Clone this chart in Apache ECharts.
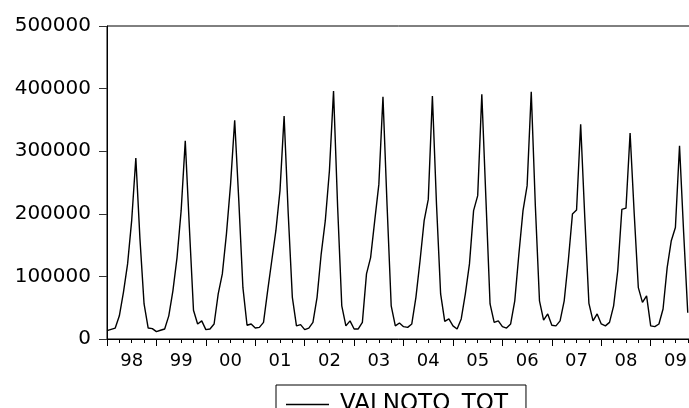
<!DOCTYPE html>
<html>
<head>
<meta charset="utf-8">
<script src="https://cdn.jsdelivr.net/npm/echarts@6/dist/echarts.min.js"></script>
<style>
html,body{margin:0;padding:0;background:#fff;}
#chart{width:689px;height:408px;}
</style>
</head>
<body>
<div id="chart"></div>
<script>
// Monthly values, Jan..Dec
const y1998 = [13300, 15400, 17500, 37000, 75000, 120000, 190000, 289000, 160000, 56000, 17500, 16500];
const y1999 = [11700, 14000, 16000, 37000, 77000, 130000, 205000, 316500, 178000, 46000, 24000, 29000];
const y2000 = [15000, 16000, 24000, 72000, 104000, 168000, 247000, 349500, 221000, 82000, 22000, 24000];
const y2001 = [17500, 18600, 26600, 77000, 125000, 173000, 237000, 356000, 200000, 66500, 21000, 23000];
const y2002 = [15000, 17500, 26600, 66500, 135700, 189000, 268700, 396000, 210000, 53000, 21000, 29000];
const y2003 = [16000, 16000, 26600, 104000, 130000, 189000, 247000, 387000, 213000, 53000, 21000, 25500];
const y2004 = [19700, 18600, 24000, 66500, 125000, 189000, 223000, 388000, 215000, 72000, 28000, 32000];
const y2005 = [21000, 16000, 32000, 72000, 120000, 205000, 229000, 391000, 223000, 56000, 26600, 29000];
const y2006 = [19700, 17500, 24000, 61000, 135700, 205000, 245000, 395000, 212000, 61000, 30000, 40000];
const y2007 = [22000, 21000, 29000, 61000, 125000, 199500, 206000, 343000, 194000, 57000, 29000, 40000];
const y2008 = [24000, 21000, 26600, 53000, 109000, 207000, 209000, 329000, 200000, 82000, 58500, 69000];
const y2009 = [21000, 19700, 24000, 48000, 114000, 157000, 178000, 308500, 170000, 42000];

const yearLabels = ['98','99','00','01','02','03','04','05','06','07','08','09'];
const yTicks = [0, 100000, 200000, 300000, 400000, 500000];
const seriesName = 'VALNOTO_TOT';

const allValues = [].concat(y1998, y1999, y2000, y2001, y2002, y2003, y2004, y2005, y2006, y2007, y2008, y2009);
const lineData = allValues.map((v, i) => [i, v]);

const FONT = 'DejaVu Sans';
const chart = echarts.init(document.getElementById('chart'), null, {renderer: 'canvas'});
chart.setOption({
  animation: false,
  backgroundColor: '#fff',
  grid: {
    left: 107, top: 26, width: 589, height: 313,
    containLabel: false,
    outerBoundsMode: 'none',
    show: true, borderColor: '#000', borderWidth: 1, backgroundColor: 'transparent'
  },
  xAxis: [
    {
      type: 'value', min: 0, max: 143, interval: 12,
      axisLine: {show: true, lineStyle: {color: '#000', width: 1}},
      axisTick: {show: true, length: 7, lineStyle: {color: '#000', width: 1}},
      minorTick: {show: true, splitNumber: 4, length: 4, lineStyle: {color: '#000', width: 1}},
      axisLabel: {show: false},
      splitLine: {show: false},
      minorSplitLine: {show: false}
    },
    {
      type: 'value', min: 0, max: 143, interval: 6, position: 'bottom',
      axisLine: {show: false}, axisTick: {show: false}, splitLine: {show: false},
      axisLabel: {
        show: true, margin: 13, color: '#000', fontFamily: FONT, fontSize: 18,
        formatter: function (v) {
          if (v % 12 === 6) { return yearLabels[(v - 6) / 12] || ''; }
          return '';
        }
      }
    }
  ],
  yAxis: {
    type: 'value', min: yTicks[0], max: yTicks[yTicks.length - 1], interval: yTicks[1] - yTicks[0],
    axisLine: {show: true, lineStyle: {color: '#000', width: 1}},
    axisTick: {show: true, length: 8, lineStyle: {color: '#333', width: 1}},
    axisLabel: {
      show: true, margin: 16, color: '#000', fontFamily: FONT, fontSize: 20,
      formatter: function (v) { return String(v); }
    },
    splitLine: {show: false}
  },
  legend: {
    show: true,
    left: 276, top: 385,
    orient: 'horizontal',
    borderColor: '#000', borderWidth: 1,
    padding: [8, 18, 30, 10],
    itemWidth: 43, itemHeight: 1.5,
    textStyle: {color: '#000', fontFamily: FONT, fontSize: 23, padding: [0, 0, 0, 6]},
    data: [{name: seriesName, icon: 'path://M0,0L86,0L86,3L0,3Z', itemStyle: {color: '#000'}}]
  },
  series: [{
    name: seriesName,
    type: 'line',
    xAxisIndex: 0,
    data: lineData,
    symbol: 'none',
    showSymbol: false,
    lineStyle: {color: '#000', width: 1.4},
    itemStyle: {color: '#000'}
  }]
});
</script>
</body>
</html>
